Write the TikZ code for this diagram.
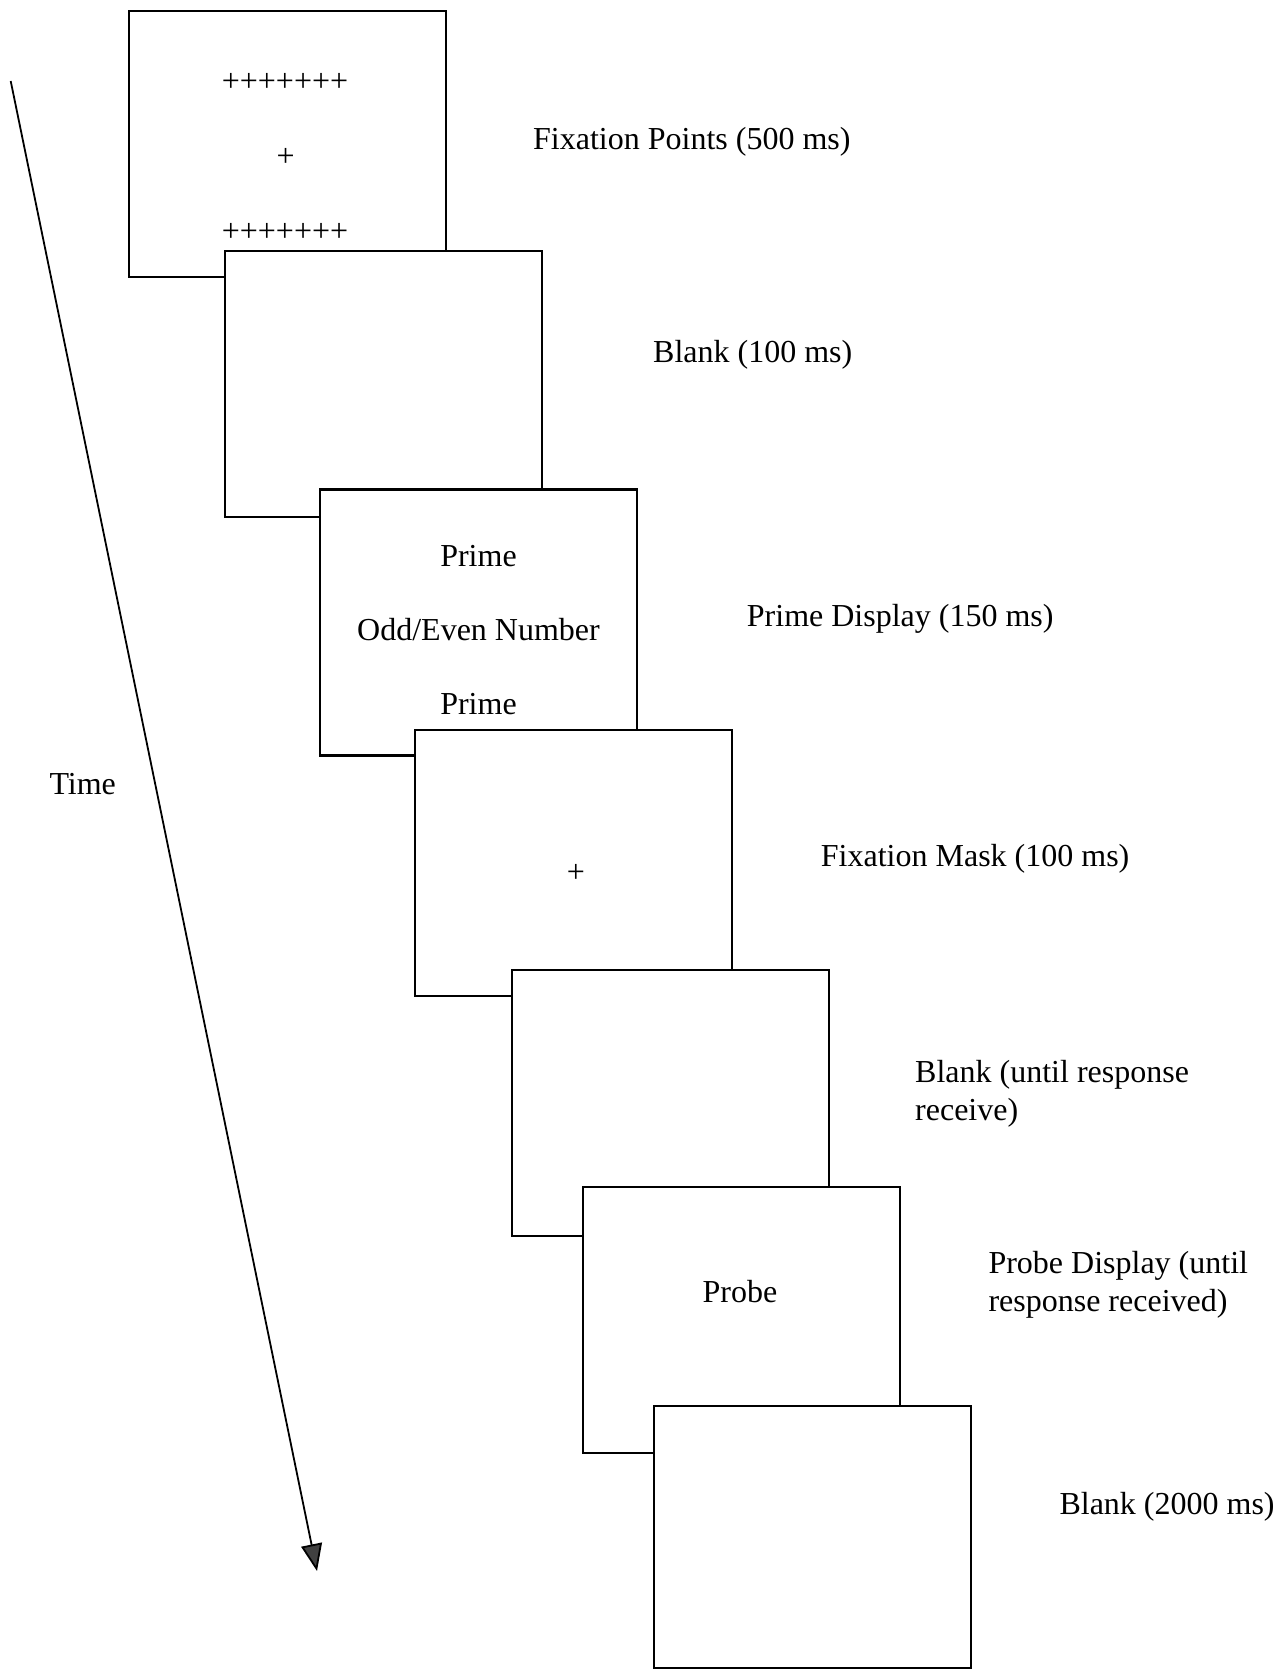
\documentclass[tikz,border=0pt]{standalone}
\usepackage{fontspec}
\setmainfont{Liberation Serif}
\usetikzlibrary{arrows.meta}
\tikzset{
  screen/.style={draw, fill=white, line width=2.2pt, minimum width=317pt, minimum height=266pt, inner sep=0pt},
  txt/.style={anchor=base, inner sep=0pt},
  lbl/.style={anchor=base west, inner sep=0pt, align=left},
  timeline/.style={line width=1.8pt, -{Triangle[length=27pt, width=21pt, fill=black!75]}}
}
\begin{document}
\begin{tikzpicture}[x=1pt, y=-1pt, font=\fontsize{32pt}{38.4pt}\selectfont]
  \useasboundingbox (0,0) rectangle (1280,1670);
  \coordinate (T0) at (10.7,81);
  \coordinate (T1) at (317,1571);
  \draw[timeline] (T0) -- (T1);
  \node[lbl] (time) at (49.3,794) {Time};

  \node[screen] (S1) at (287.5,143.8) {};
  \node[txt] (p1) at (285,92) {+++++++};
  \node[txt] (p2) at (285.7,166) {+};
  \node[txt] (p3) at (285,241) {+++++++};
  \node[screen] (S2) at (383.8,383.8) {};
  \node[screen] (S3) at (478.8,622.5) {};
  \node[txt] (pr1) at (478.5,566.7) {Prime};
  \node[txt] (num) at (478.5,640) {Odd/Even Number};
  \node[txt] (pr2) at (478.5,714.7) {Prime};
  \node[screen] (S4) at (573.3,862.6) {};
  \node[txt] (fm) at (576,882) {+};
  \node[screen] (S5) at (670.8,1103) {};
  \node[screen] (S6) at (741.3,1319.8) {};
  \node[txt] (pb) at (740,1302.7) {Probe};
  \node[screen, minimum height=262pt] (S7) at (812.8,1536.7) {};

  \node[lbl] (L1) at (533,149) {Fixation Points (500 ms)};
  \node[lbl] (L2) at (653,362.7) {Blank (100 ms)};
  \node[lbl] (L3) at (746.7,626) {Prime Display (150 ms)};
  \node[lbl] (L4) at (820.7,866) {Fixation Mask (100 ms)};
  \node[lbl] (L5) at (915,1120.5) {Blank (until response\\receive)};
  \node[lbl] (L6) at (988.3,1311.7) {Probe Display (until\\response received)};
  \node[lbl] (L7) at (1059.3,1514) {Blank (2000 ms)};
\end{tikzpicture}
\end{document}
